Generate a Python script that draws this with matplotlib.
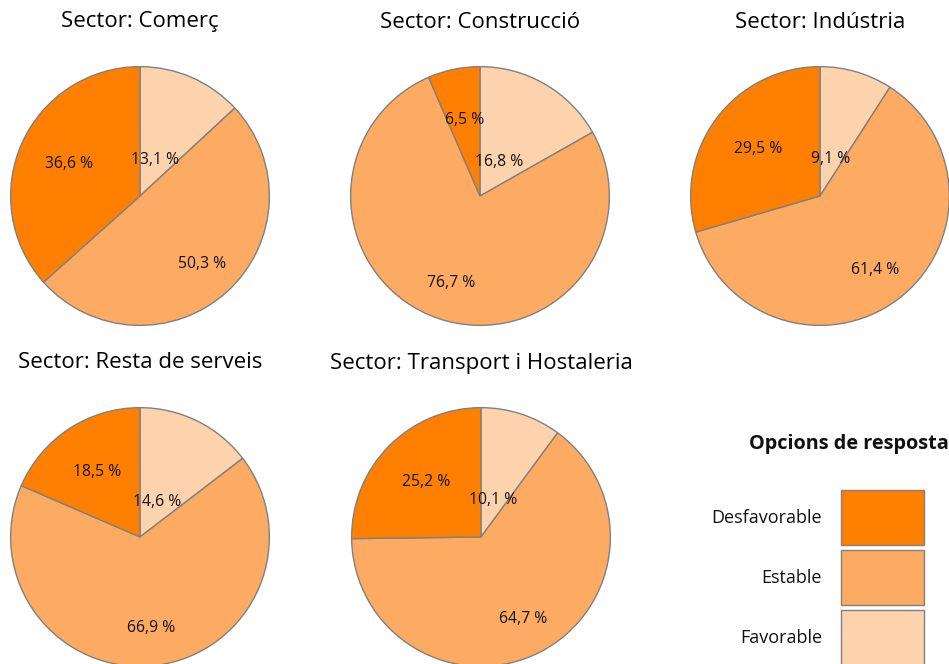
import numpy as np
import matplotlib
matplotlib.use('Agg')
from matplotlib import pyplot as plt
from matplotlib.patches import Rectangle

plt.rcParams['font.family'] = ['Open Sans', 'DejaVu Sans']

sectors = ['Comerç', 'Construcció', 'Indústria', 'Resta de serveis', 'Transport i Hostaleria']
options = ['Desfavorable', 'Estable', 'Favorable']
desfavorable = [36.6, 6.5, 29.5, 18.5, 25.2]
estable = [50.3, 76.7, 61.4, 66.9, 64.7]
favorable = [13.1, 16.8, 9.1, 14.6, 10.1]

colors = {'Desfavorable': '#ff7f00', 'Estable': '#fdaa63', 'Favorable': '#fdd3ae'}
label_r = {'Desfavorable': 0.6, 'Estable': 0.71, 'Favorable': 0.3}
edge = '#808080'

W, H = 949, 664
fig = plt.figure(figsize=(W / 100, H / 100), dpi=100)

centers = [(140, 196), (480, 196), (820, 196), (140, 537), (481, 537)]
R = 130

def fmt(v):
    return '{:.1f} %'.format(v).replace('.', ',')

for i, name in enumerate(sectors):
    cx, cy = centers[i]
    ax = fig.add_axes([(cx - R) / W, 1 - (cy + R) / H, 2 * R / W, 2 * R / H])
    # clockwise from 12 o'clock: Favorable, Estable, Desfavorable
    order = ['Favorable', 'Estable', 'Desfavorable']
    vals = [favorable[i], estable[i], desfavorable[i]]
    wedges, _ = ax.pie(vals, colors=[colors[o] for o in order], startangle=90,
                       counterclock=False, radius=1.0,
                       wedgeprops=dict(edgecolor=edge, linewidth=1.0))
    total = sum(vals)
    start = 0.0
    for o, v in zip(order, vals):
        mid = (start + v / 2) / total * 2 * np.pi
        r = label_r[o]
        ax.text(r * np.sin(mid), r * np.cos(mid), fmt(v), ha='center', va='center',
                fontsize=11.3, color='#111111')
        start += v
    ax.set_xlim(-1.005, 1.005)
    ax.set_ylim(-1.005, 1.005)
    ax.set_aspect('equal')
    ax.axis('off')
    ax.set_clip_on(False)
    fig.text(cx / W, 1 - (cy - R - 44) / H, 'Sector: ' + name, ha='center', va='center',
             fontsize=16)

# legend
fig.text(949 / W, 1 - 444 / H, 'Opcions de resposta', ha='right', va='center',
         fontsize=14.3, fontweight='bold', color='#111111')
lax = fig.add_axes([0, 0, 1, 1])
lax.set_xlim(0, W)
lax.set_ylim(H, 0)
lax.axis('off')
for k, o in enumerate(options):
    y0 = 490 + k * 60
    lax.add_patch(Rectangle((841, y0), 83, 55, facecolor=colors[o], edgecolor=edge, linewidth=1.0))
    lax.text(822, y0 + 28, o, ha='right', va='center', fontsize=13, color='#111111')

fig.savefig('out.png', dpi=100)
